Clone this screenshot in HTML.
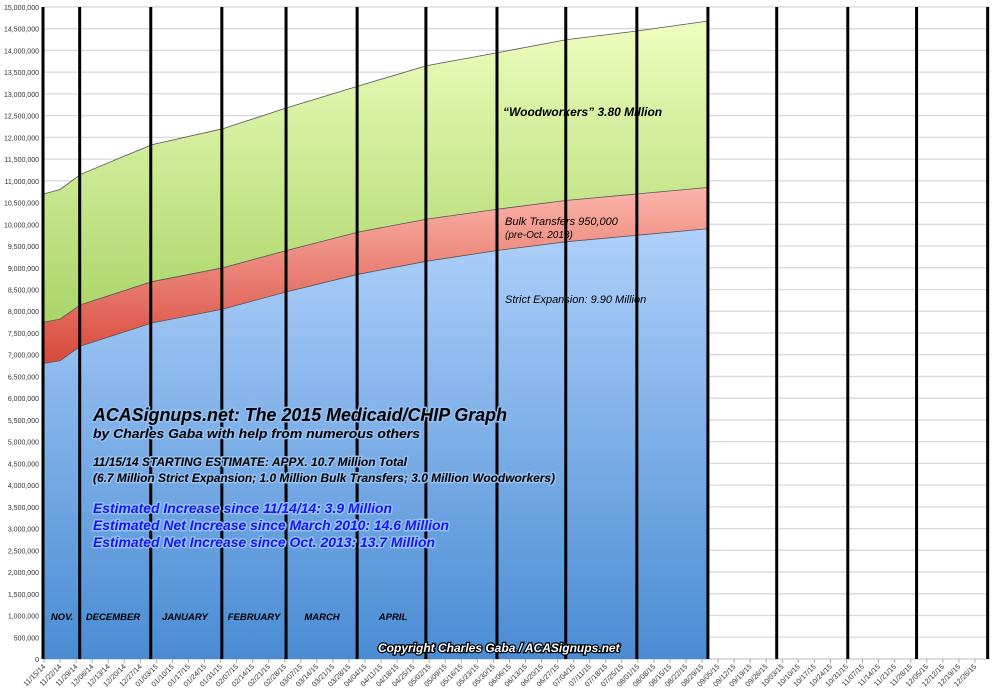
<!DOCTYPE html>
<html><head><meta charset="utf-8"><style>
html,body{margin:0;padding:0;background:#fff;width:1000px;height:696px;overflow:hidden}
svg text{font-family:"Liberation Sans",Arial,sans-serif}
</style></head><body>
<svg id="s" width="1000" height="696" xmlns="http://www.w3.org/2000/svg">
<defs>
<linearGradient id="gg" gradientUnits="userSpaceOnUse" x1="0" y1="20" x2="0" y2="330"><stop offset="0" stop-color="#eefdbe"/><stop offset="1" stop-color="#a8d466"/></linearGradient>
<linearGradient id="rg" gradientUnits="userSpaceOnUse" x1="0" y1="190" x2="0" y2="360"><stop offset="0" stop-color="#fbb4aa"/><stop offset="1" stop-color="#d84a3c"/></linearGradient>
<linearGradient id="bg" gradientUnits="userSpaceOnUse" x1="0" y1="230" x2="0" y2="659"><stop offset="0" stop-color="#aed0fa"/><stop offset="1" stop-color="#4a8cd4"/></linearGradient>
</defs>
<g id="grid"></g><g id="areas"></g><g id="vl"></g><g id="lab"></g>
<g font-style="italic" font-weight="bold">
<text x="503" y="116" font-size="12">“Woodworkers” 3.80 Million</text>
<text x="505" y="225" font-size="11" font-weight="normal">Bulk Transfers 950,000</text>
<text x="505" y="238" font-size="10" font-weight="normal">(pre-Oct. 2013)</text>
<text x="505" y="303" font-size="11" font-weight="normal">Strict Expansion: 9.90 Million</text>
<g font-size="9.5" text-anchor="middle">
<text x="62" y="620">NOV.</text><text x="113" y="620">DECEMBER</text><text x="185" y="620">JANUARY</text><text x="254" y="620">FEBRUARY</text><text x="322" y="620">MARCH</text><text x="393" y="620">APRIL</text></g>
<g stroke="#94bff0" stroke-width="3" paint-order="stroke" stroke-linejoin="round">
<text x="93" y="421" font-size="18" textLength="414" lengthAdjust="spacingAndGlyphs">ACASignups.net: The 2015 Medicaid/CHIP Graph</text>
<text x="93" y="438" font-size="13" textLength="327" lengthAdjust="spacingAndGlyphs">by Charles Gaba with help from numerous others</text>
<text x="93" y="466" font-size="11.5" textLength="314" lengthAdjust="spacingAndGlyphs">11/15/14 STARTING ESTIMATE: APPX. 10.7 Million Total</text>
<text x="93" y="482" font-size="11.5" textLength="462" lengthAdjust="spacingAndGlyphs">(6.7 Million Strict Expansion; 1.0 Million Bulk Transfers; 3.0 Million Woodworkers)</text>
<g fill="#1818f0" font-size="13.8"><text x="93" y="513" textLength="299" lengthAdjust="spacingAndGlyphs">Estimated Increase since 11/14/14: 3.9 Million</text>
<text x="93" y="530" textLength="356" lengthAdjust="spacingAndGlyphs">Estimated Net Increase since March 2010: 14.6 Million</text>
<text x="93" y="547" textLength="342" lengthAdjust="spacingAndGlyphs">Estimated Net Increase since Oct. 2013: 13.7 Million</text></g></g>
<text x="378" y="652" font-size="12" fill="#fff" stroke="#000" stroke-width="2.5" paint-order="stroke">Copyright Charles Gaba / ACASignups.net</text>
</g>
</svg>
<script>
var NS="http://www.w3.org/2000/svg";
function el(p,t,a,txt){var e=document.createElementNS(NS,t);for(var k in a)e.setAttribute(k,a[k]);if(txt)e.textContent=txt;document.getElementById(p).appendChild(e);return e;}
function Y(v){return 659-v*43.47;}
function X(d){return 44+d*16.05/7;}
for(var i=0;i<=30;i++){var v=i*0.5,y=Y(v);
 if(i>0)el("grid","line",{x1:44,x2:990,y1:y,y2:y,stroke:"#d9d9d9","stroke-width":1.3});
 var n=Math.round(v*1000000).toString().replace(/\B(?=(\d{3})+(?!\d))/g,",");
 el("grid","text",{x:39,y:y+3,"font-size":7,"text-anchor":"end",fill:"#333"},n);}
el("grid","line",{x1:44,x2:990,y1:659,y2:659,stroke:"#bbb","stroke-width":1});
var D=[0,7,16,47,78,106,137,167,198,228,259,290];
var B=[6.8,6.86,7.2,7.73,8.05,8.45,8.85,9.15,9.4,9.6,9.75,9.9];
var R=[7.75,7.82,8.15,8.68,9.0,9.4,9.82,10.12,10.35,10.55,10.7,10.85];
var G=[10.7,10.8,11.15,11.83,12.2,12.68,13.18,13.65,13.95,14.25,14.45,14.68];
function pts(A){return D.map(function(d,i){return X(d).toFixed(1)+","+Y(A[i]).toFixed(1)});}
function area(top,bot,fill){var p="M"+pts(top).join("L")+"L"+pts(bot).reverse().join("L")+"Z";el("areas","path",{d:p,fill:fill});
 el("areas","polyline",{points:pts(top).join(" "),fill:"none",stroke:"#555","stroke-width":0.8});}
var Z=D.map(function(){return 0});
area(G,R,"url(#gg)");area(R,B,"url(#rg)");area(B,Z,"url(#bg)");
[0,16,47,78,106,137,167,198,228,259,290,320,351,381,412].forEach(function(d){var x=X(d)-1;el("vl","line",{x1:x,x2:x,y1:7,y2:659,stroke:"#000","stroke-width":3});});
for(var w=0;w<=58;w++){var dt=new Date(2014,10,15+w*7);var x=X(w*7);
 el("lab","line",{x1:x,x2:x,y1:659,y2:663,stroke:"#aaa","stroke-width":1});
 var s=("0"+(dt.getMonth()+1)).slice(-2)+"/"+("0"+dt.getDate()).slice(-2)+"/"+String(dt.getFullYear()).slice(2);
 el("lab","text",{x:x+2,y:667,"font-size":7.3,fill:"#333","text-anchor":"end",transform:"rotate(-45 "+(x+2)+" 667)"},s);}
</script>
</body></html>
